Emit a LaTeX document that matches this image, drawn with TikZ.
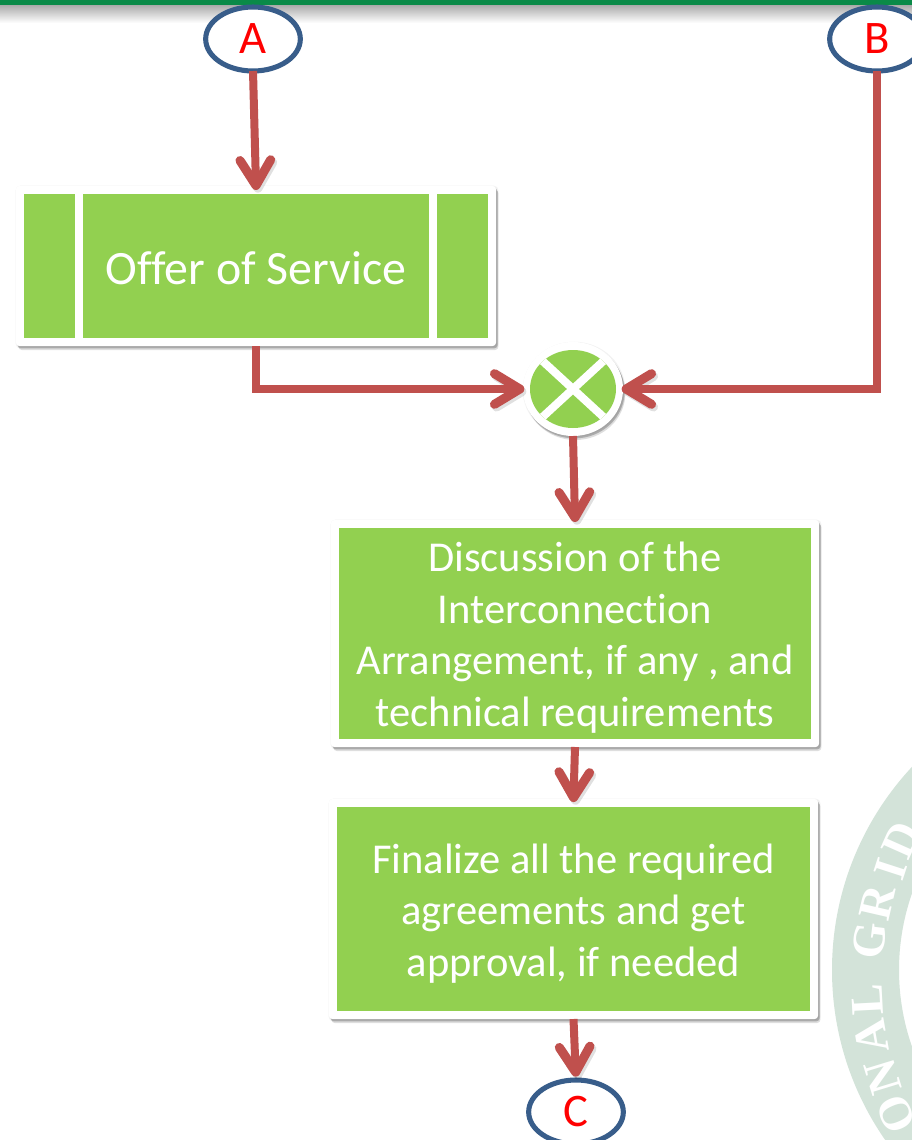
\documentclass[tikz,border=0pt]{standalone}
\usepackage{fontspec}
\setmainfont{Carlito}[Ligatures=CommonOff]
\newfontfamily\sealfont{Liberation Serif}
\usetikzlibrary{arrows.meta,shapes.geometric,shadows}
\definecolor{leaf}{HTML}{92D050}
\definecolor{arrowred}{HTML}{C0504D}
\definecolor{ringblue}{HTML}{385D8A}
\definecolor{topgreen}{HTML}{0A8A48}
\definecolor{seal}{HTML}{D3E3D9}
\tikzset{
  softshadow/.style={
     preaction={draw=black,fill=black,line width=2pt,opacity=.05,transform canvas={shift={(0.8pt,-0.8pt)}}},
     preaction={fill=black,opacity=.13,transform canvas={shift={(1.8pt,-3pt)}}},
     preaction={fill=black,opacity=.18,transform canvas={shift={(1.2pt,-1.8pt)}}}},
  outerbox/.style={rectangle,rounded corners=2.5pt,fill=white,softshadow,inner sep=0pt,outer sep=0pt},
  greenbox/.style={rectangle,fill=leaf,inner sep=0pt,outer sep=0pt},
  boxtext/.style={text=white,align=center,inner sep=0pt,font=\fontsize{31.9}{38.6}\selectfont},
  ringnode/.style={ellipse,draw=ringblue,line width=3.8pt,fill=white,inner sep=0pt,outer sep=0pt,
                   minimum width=71pt,minimum height=48pt,text=red,font=\fontsize{35}{38}\selectfont},
  flow/.style={draw=arrowred,line width=6pt,shorten >=-3pt,
     -{Straight Barb[length=19pt,width=23pt,round,line width=6.8pt]},
     preaction={draw=black,opacity=.12,transform canvas={shift={(1.5pt,-2pt)}}}},
  sealletter/.style={text=white,inner sep=0pt,font=\fontsize{35}{35}\sealfont\bfseries},
}
\begin{document}
\begin{tikzpicture}[x=0.75pt,y=-0.75pt]
\clip (0,0) rectangle (912,1140);
\fill[white] (0,0) rectangle (912,1140);
% watermark seal
\fill[seal,even odd rule] (1130,970) circle[radius=298] (1130,970) circle[radius=231];
\node[sealletter,rotate=66]  (s1) at (901,840) {D};
\node[sealletter,rotate=72]  (s2) at (891,869) {I};
\node[sealletter,rotate=77]  (s3) at (877,903) {R};
\node[sealletter,rotate=83]  (s4) at (870,941) {G};
\node[sealletter,rotate=93]  (s5) at (867,1000) {L};
\node[sealletter,rotate=100] (s6) at (871,1037) {A};
\node[sealletter,rotate=107] (s7) at (883,1077) {N};
\node[sealletter,rotate=114] (s8) at (896,1114) {O};
% top bar
\shade[top color=black!35,bottom color=white] (0,4) rectangle (912,23);
\fill[topgreen] (0,0) rectangle (912,4.5);
% boxes
\node[outerbox,minimum width=360pt,minimum height=120pt] (offer) at (256,266) {};
\node[greenbox,minimum width=348pt,minimum height=108pt] (offerfill) at (256,266) {};
\fill[white] (75,194) rectangle (83,338);
\fill[white] (429,194) rectangle (437,338);
\node[boxtext,font=\fontsize{35.9}{38.6}\selectfont] (offertext) at (256,268) {Offer of Service};
\node[outerbox,minimum width=366pt,minimum height=170.25pt] (disc) at (575,633.5) {};
\node[greenbox,minimum width=354pt,minimum height=158.25pt] (discfill) at (575,633.5) {};
\node[boxtext] (disctext) at (575,637.5)
  {Discussion of the\\Interconnection\\Arrangement, if any , and\\technical requirements};
\node[outerbox,minimum width=366.75pt,minimum height=165pt] (final) at (573.5,909) {};
\node[greenbox,minimum width=354.75pt,minimum height=153pt] (finalfill) at (573.5,909) {};
\node[boxtext] (finaltext) at (573.5,913.5)
  {Finalize all the required\\agreements and get\\approval, if needed};
% merge symbol
\node[ellipse,fill=white,softshadow,minimum width=75pt,minimum height=70.5pt,inner sep=0pt,outer sep=0pt] (merge) at (573,389) {};
\begin{scope}
\clip (573,389) ellipse[x radius=43,y radius=39];
\fill[leaf] (520,340) rectangle (626,438);
\draw[white,line width=6pt] (523,343) -- (623,435);
\draw[white,line width=6pt] (623,343) -- (523,435);
\end{scope}
% connector rings
\node[ringnode] (A) at (253,39) {A};
\node[ringnode] (B) at (877,39) {B};
\node[ringnode] (C) at (576,1112) {C};
% connectors
\draw[flow] (A.south) -- (offer.north);
\draw[flow,line join=miter,shorten >=-1pt] (offer.south) |- (merge.west);
\draw[flow,line join=miter,shorten >=-1pt] (B.south) |- (merge.east);
\draw[flow,shorten >=-1.5pt] (merge.south) -- (disc.north);
\draw[flow,shorten >=-2.3pt] (disc.south) -- (final.north);
\draw[flow,shorten >=2.5pt] (final.south) -- (C.north);
\end{tikzpicture}
\end{document}
